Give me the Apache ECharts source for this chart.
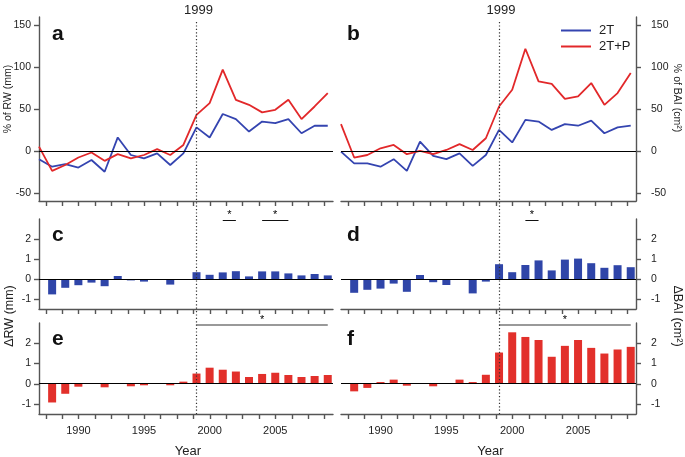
<!DOCTYPE html>
<html><head><meta charset="utf-8">
<script src="https://cdn.jsdelivr.net/npm/echarts@6/dist/echarts.min.js"></script>
<style>html,body{margin:0;padding:0;background:#fff}#c{width:685px;height:457px}</style>
</head><body><div id="c"></div>
<script>
// ---- data ----
const years = [1987,1988,1989,1990,1991,1992,1993,1994,1995,1996,1997,1998,1999,2000,2001,2002,2003,2004,2005,2006,2007,2008,2009];
const rw2T   = [-10,-19,-16,-20,-11,-25,16,-5,-9,-3,-17,-3,28,16,44,38,23,35,33,38,21,30,30];
const rw2TP  = [5,-24,-17,-8,-2,-12,-4,-9,-5,2,-5,7,43,57,97,61,55,46,49,61,38,53,69];
const bai2T  = [-1,-15,-15,-19,-10,-24,11,-6,-10,-3,-18,-5,25,10,37,35,25,32,30,36,21,28,30];
const bai2TP = [32,-8,-5,3,7,-4,0,-4,1,8,1,15,53,73,122,83,80,62,65,81,55,69,93];

const barYears = [1988,1989,1990,1991,1992,1993,1994,1995,1996,1997,1998,1999,2000,2001,2002,2003,2004,2005,2006,2007,2008,2009];
const dRW2T   = [-0.77,-0.44,-0.31,-0.18,-0.36,0.15,-0.07,-0.13,0,-0.28,-0.03,0.34,0.21,0.33,0.39,0.13,0.38,0.38,0.28,0.18,0.25,0.18];
const dBAI2T  = [-0.69,-0.54,-0.48,-0.23,-0.64,0.2,-0.16,-0.3,-0.03,-0.72,-0.13,0.74,0.34,0.7,0.93,0.43,0.97,1.02,0.79,0.56,0.69,0.59];
const dRW2TP  = [-0.93,-0.5,-0.15,0,-0.18,0,-0.13,-0.08,0,-0.08,0.1,0.5,0.79,0.69,0.6,0.33,0.48,0.54,0.43,0.33,0.38,0.43];
const dBAI2TP = [-0.38,-0.21,0.08,0.2,-0.1,0,-0.13,0,0.2,0.08,0.44,1.54,2.54,2.31,2.16,1.33,1.87,2.16,1.77,1.49,1.69,1.82];

const xTicks = [1987.5,1988.75,1990,1991.25,1992.5,1993.75,1995,1996.25,1997.5,1998.75,2000,2001.25,2002.5,2003.75,2005,2006.25,2007.5,2008.75];
const xLabels = [1990,1995,2000,2005];
const pctTicks = [-50,0,50,100,150];
const deltaTicks = [-1,0,1,2];
const treatYear = 1999;
const sigC = [[2001,2002],[2004,2006]];
const sigD = [[2001,2002]];
const sigE = [[1999,2009]];
const sigF = [[1999,2009]];
const seriesNames = ['2T','2T+P'];
const panelLetters = ['a','b','c','d','e','f'];
const xTitle = 'Year';

// ---- styles ----
const BLUE = '#3444b0', RED = '#e2282a', BBAR = '#2f45a8', RBAR = '#e2302b';
const AX = '#555';
const FONT = 'Liberation Sans, Arial, sans-serif';
const X_MIN = 1987, X_MAX = 2009.4;
const PCT_MIN = -60, PCT_MAX = 160, D_MIN = -1.5, D_MAX = 3;

const grids = [
  {left:39, top:17, width:294, height:184},
  {left:341, top:17, width:295, height:184},
  {left:39, top:219, width:294, height:90},
  {left:341, top:219, width:295, height:90},
  {left:39, top:323, width:294, height:91},
  {left:341, top:323, width:295, height:91}
];

function xAx(i){
  const showLab = i >= 4;
  return {
    type:'value', gridIndex:i, min:X_MIN, max:X_MAX,
    axisLine:{show:true, onZero:false, lineStyle:{color:AX, width:1.4}},
    axisTick:{show:false},
    axisLabel:{show:showLab, customValues:xLabels, fontSize:11, color:'#222', margin:11, fontFamily:FONT,
      formatter: v => String(v)},
    splitLine:{show:false}
  };
}
function yAx(i){
  const top = i < 2;
  const right = i % 2 === 1;
  const ticks = top ? pctTicks : deltaTicks;
  return {
    type:'value', gridIndex:i, position: right ? 'right' : 'left',
    min: top ? PCT_MIN : D_MIN, max: top ? PCT_MAX : D_MAX,
    axisLine:{show:true, onZero:false, lineStyle:{color:AX, width:1.4}},
    axisTick:{show:false},
    axisLabel:{customValues:ticks, fontSize:10.5, color:'#222', margin: right ? 15 : 8, fontFamily:FONT,
      formatter: v => String(v)},
    splitLine:{show:false}
  };
}

function zeroAndSig(sigs, yv, col, w){
  const data = [{yAxis:0, lineStyle:{color:'#000', width:1, type:'solid'}, label:{show:false}}];
  sigs.forEach(s => {
    data.push([
      {coord:[s[0], yv], lineStyle:{color:col, width:w, type:'solid'},
       label:{show:true, formatter:'*', position:'middle', fontSize:11, color:'#000', distance:0, fontFamily:FONT}},
      {coord:[s[1], yv]}
    ]);
  });
  return {silent:true, symbol:['none','none'], animation:false, data:data};
}

const pair = (xs, ys) => xs.map((x,k) => [x, ys[k]]);

function lineS(name, xs, ys, col, gi, ml){
  const s = {type:'line', name:name, xAxisIndex:gi, yAxisIndex:gi, data:pair(xs,ys),
    symbol:'none', lineStyle:{color:col, width:1.8}, itemStyle:{color:col}, z:3};
  if (ml) s.markLine = ml;
  return s;
}
function barS(xs, ys, col, gi, ml){
  return {type:'bar', xAxisIndex:gi, yAxisIndex:gi, data:pair(xs,ys), barWidth:8,
    itemStyle:{color:col}, markLine:ml};
}

const series = [
  lineS(seriesNames[0], years, rw2T, BLUE, 0, zeroAndSig([], 0, '#000', 1)),
  lineS(seriesNames[1], years, rw2TP, RED, 0),
  lineS(seriesNames[0], years, bai2T, BLUE, 1, zeroAndSig([], 0, '#000', 1)),
  lineS(seriesNames[1], years, bai2TP, RED, 1),
  barS(barYears, dRW2T, BBAR, 2, zeroAndSig(sigC, 2.92, '#111', 1)),
  barS(barYears, dBAI2T, BBAR, 3, zeroAndSig(sigD, 2.92, '#111', 1)),
  barS(barYears, dRW2TP, RBAR, 4, zeroAndSig(sigE, 2.9, '#777', 1.6)),
  barS(barYears, dBAI2TP, RBAR, 5, zeroAndSig(sigF, 2.9, '#777', 1.6))
];

const chart = echarts.init(document.getElementById('c'), null, {renderer:'canvas'});
chart.setOption({
  animation:false,
  backgroundColor:'#fff',
  grid: grids,
  xAxis: [0,1,2,3,4,5].map(xAx),
  yAxis: [0,1,2,3,4,5].map(yAx),
  legend:{data:seriesNames, orient:'vertical', left:561, top:24, padding:0, icon:'rect', itemWidth:30, itemHeight:2, itemGap:3,
    selectedMode:false, textStyle:{fontSize:13, color:'#222', fontFamily:FONT, padding:[0,0,0,3]}},
  series: series
});

// ---- annotations positioned through the library's scales ----
const graphics = [];
const TL = 5;
[0,1,2,3,4,5].forEach(i => {
  const top = i < 2, right = i % 2 === 1;
  const yMin = top ? PCT_MIN : D_MIN;
  const yVals = top ? pctTicks : deltaTicks;
  const yBase = chart.convertToPixel({yAxisIndex:i}, yMin);
  xTicks.forEach(v => {
    const x = Math.round(chart.convertToPixel({xAxisIndex:i}, v)) + 0.5;
    graphics.push({type:'line', z:50, silent:true, shape:{x1:x, y1:yBase, x2:x, y2:yBase+TL},
      style:{stroke:AX, lineWidth:1.4}});
  });
  const xEdge = chart.convertToPixel({xAxisIndex:i}, right ? X_MAX : X_MIN);
  yVals.forEach(v => {
    const y = Math.round(chart.convertToPixel({yAxisIndex:i}, v)) + 0.5;
    graphics.push({type:'line', z:50, silent:true, shape:{x1:xEdge, y1:y, x2: right ? xEdge+TL : xEdge-TL, y2:y},
      style:{stroke:AX, lineWidth:1.4}});
  });
});
[4,5].forEach(i => {
  const xc = chart.convertToPixel({xAxisIndex:i}, (X_MIN + X_MAX) / 2);
  graphics.push({type:'text', z:100, style:{x:xc+2, y:451, text:xTitle, font:'13px '+FONT,
    fill:'#222', textAlign:'center', textVerticalAlign:'middle'}});
});

const xa = chart.convertToPixel({xAxisIndex:0}, treatYear);
const xb = chart.convertToPixel({xAxisIndex:1}, treatYear);
const yTop = chart.convertToPixel({yAxisIndex:0}, 154);
const yBot = chart.convertToPixel({yAxisIndex:4}, D_MIN);
[xa, xb].forEach(x => {
  graphics.push({type:'line', z:100, silent:true, shape:{x1:Math.round(x)+0.5, y1:yTop, x2:Math.round(x)+0.5, y2:yBot},
    style:{stroke:'#333', lineWidth:1.2, lineDash:[1.2,2.2]}});
  graphics.push({type:'text', z:100, style:{x:x+2, y:10, text:String(treatYear), font:'13px '+FONT,
    fill:'#222', textAlign:'center', textVerticalAlign:'middle'}});
});
panelLetters.forEach((t,i) => {
  const g = grids[i];
  graphics.push({type:'text', z:100, style:{x: g.left + (i%2 ? 6 : 13), y: g.top + (i < 2 ? 17 : 16), text:t,
    font:'bold 21px '+FONT, fill:'#111', textAlign:'left', textVerticalAlign:'middle'}});
});
const titles = [
  {t:'% of RW (mm)', x:8, y:99, r:Math.PI/2, f:10.5},
  {t:'% of BAI (cm\u00B2)', x:677, y:98, r:-Math.PI/2, f:10.5},
  {t:'\u0394RW (mm)', x:10, y:316, r:Math.PI/2, f:12.5},
  {t:'\u0394BAI (cm\u00B2)', x:677, y:316, r:-Math.PI/2, f:12.5}
];
titles.forEach(o => {
  graphics.push({type:'text', z:100, x:o.x, y:o.y, rotation:o.r,
    style:{x:0, y:0, text:o.t, font:o.f+'px '+FONT, fill:'#222', textAlign:'center', textVerticalAlign:'middle'}});
});
chart.setOption({graphic: graphics});
</script>
</body></html>
